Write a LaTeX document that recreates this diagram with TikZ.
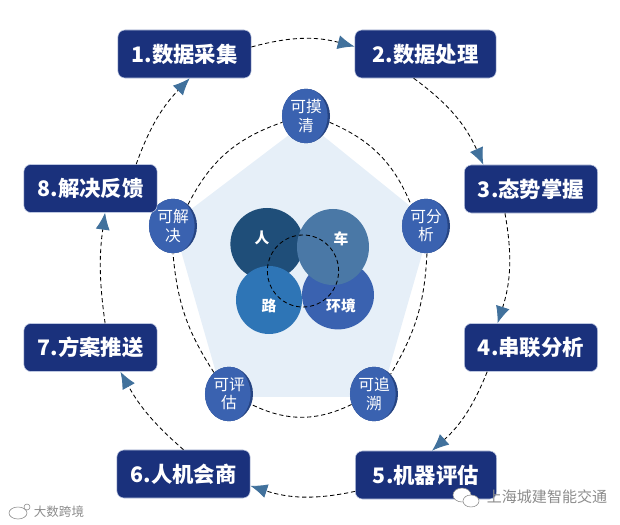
\documentclass[tikz,border=0pt]{standalone}
\usepackage{fontspec}
\setmainfont{Noto Sans CJK SC}
\usepackage{xcolor}
\usetikzlibrary{arrows.meta,shapes.geometric}
\definecolor{navy}{RGB}{26,49,124}
\definecolor{edgeblue}{RGB}{190,200,225}
\definecolor{steel}{RGB}{65,113,156}
\definecolor{ovalblue}{RGB}{58,98,176}
\definecolor{ovaldark}{RGB}{38,68,130}
\definecolor{pale}{RGB}{230,239,248}
\definecolor{peopleblue}{RGB}{31,78,121}
\definecolor{carblue}{RGB}{74,120,166}
\definecolor{roadblue}{RGB}{46,117,182}
\definecolor{markgray}{RGB}{140,140,140}
\tikzset{
  stagebox/.style={draw=edgeblue, fill=navy, rounded corners=5pt, text=white, font=\fontsize{15.2}{18}\selectfont\bfseries, minimum width=3.33cm, minimum height=1.2cm, inner sep=0pt},
  flow/.style={densely dashed, line width=0.6pt, -{Latex[length=12pt,width=10pt,color=steel]}},
  ring/.style={densely dashed, line width=0.6pt},
  ovalnode/.style={ellipse, fill=ovaldark, text=white, align=center, inner sep=0pt, minimum width=1.2cm, minimum height=1.36cm,
    font=\fontsize{11.2}{13}\selectfont,
    path picture={\fill[ovalblue] ([xshift=-2pt]path picture bounding box.center) ellipse (0.61cm and 0.72cm);}},
  blob/.style={ellipse, text=white, inner sep=0pt, font=\fontsize{10.5}{12}\selectfont\bfseries},
  wmark/.style={text=markgray}
}
\begin{document}
\begin{tikzpicture}[x=0.025cm, y=-0.025cm]
\useasboundingbox (0,0) rectangle (620,525);
% ---- pentagon
\fill[pale] (306,122) -- (431,223) -- (381,397) -- (223,397) -- (173,223) -- cycle;
% ---- four overlapping discs
\node[blob, fill=peopleblue, minimum width=1.83cm, minimum height=1.8cm] (people) at (267,244) {};
\node[blob, fill=ovalblue, minimum width=1.8cm, minimum height=1.72cm] (env) at (338,295) {};
\node[blob, fill=roadblue, minimum width=1.65cm, minimum height=1.7cm] (road) at (269,300) {};
\node[blob, fill=carblue, minimum width=1.8cm, minimum height=1.9cm] (car) at (333,247) {};
\node[blob] (peoplet) at (262,238) {人};
\node[blob] (cart) at (341,239) {车};
\node[blob] (roadt) at (269,306) {路};
\node[blob] (envt) at (341,306) {环境};
\node[ellipse, draw, densely dashed, line width=0.6pt, minimum width=1.78cm, minimum height=1.8cm, inner sep=0pt] (core) at (303,271) {};
% ---- inner ring
\node[ovalnode] (qing) at (306,116) {可摸\\清};
\node[ovalnode] (fenxi) at (426,226) {可分\\析};
\node[ovalnode] (suyuan) at (374,394) {可追\\溯};
\node[ovalnode] (pinggu) at (229,394) {可评\\估};
\node[ovalnode] (jiejue) at (173,226) {可解\\决};
\draw[ring] (qing.-15) to[bend left=22] (fenxi.125);
\draw[ring] (fenxi.-88) to[bend left=14] (suyuan.50);
\draw[ring] (suyuan.205) to[bend left=26] (pinggu.-25);
\draw[ring] (pinggu.125) to[bend left=14] (jiejue.-90);
\draw[ring] (jiejue.55) to[bend left=22] (qing.195);
% ---- outer ring
\node[stagebox] (collect) at (184.5,54) {1.数据采集};
\node[stagebox, minimum width=3.53cm] (process) at (425.5,54) {2.数据处理};
\node[stagebox] (grasp) at (531,189) {3.态势掌握};
\node[stagebox] (link) at (531,347.5) {4.串联分析};
\node[stagebox, minimum width=3.53cm] (assess) at (426,475) {5.机器评估};
\node[stagebox] (consult) at (183.5,474) {6.人机会商};
\node[stagebox] (push) at (90.5,347.5) {7.方案推送};
\node[stagebox] (solve) at (90.5,188.5) {8.解决反馈};
\draw[flow] (collect.6) to[bend left=15] (process.174);
\draw[flow] (process.244) to[bend left=15] (grasp.153);
\draw[flow] (grasp.223) to[bend left=14] (link.144);
\draw[flow] (link.209) to[bend left=13] (assess.76);
\draw[flow] (assess.193) to[bend left=15] (consult.350);
\draw[flow] (consult.90) to[bend left=10] (push.321);
\draw[flow] (push.59) to[bend left=8] (solve.301);
\draw[flow] (solve.28) to[bend left=12] (collect.282);
% ---- watermarks
\draw[markgray, fill=white] (462,495) ellipse (9 and 7);
\draw[markgray, fill=white] (471,501) ellipse (8 and 6);
\draw[markgray, fill=white] (18,513) ellipse (9 and 6);
\draw[markgray, fill=white] (27,507) circle (3);
\node[wmark, font=\fontsize{10.7}{12}\selectfont] (account) at (547,497) {上海城建智能交通};
\node[wmark, font=\fontsize{8.9}{10}\selectfont] (source) at (59,512) {大数跨境};
\end{tikzpicture}
\end{document}
